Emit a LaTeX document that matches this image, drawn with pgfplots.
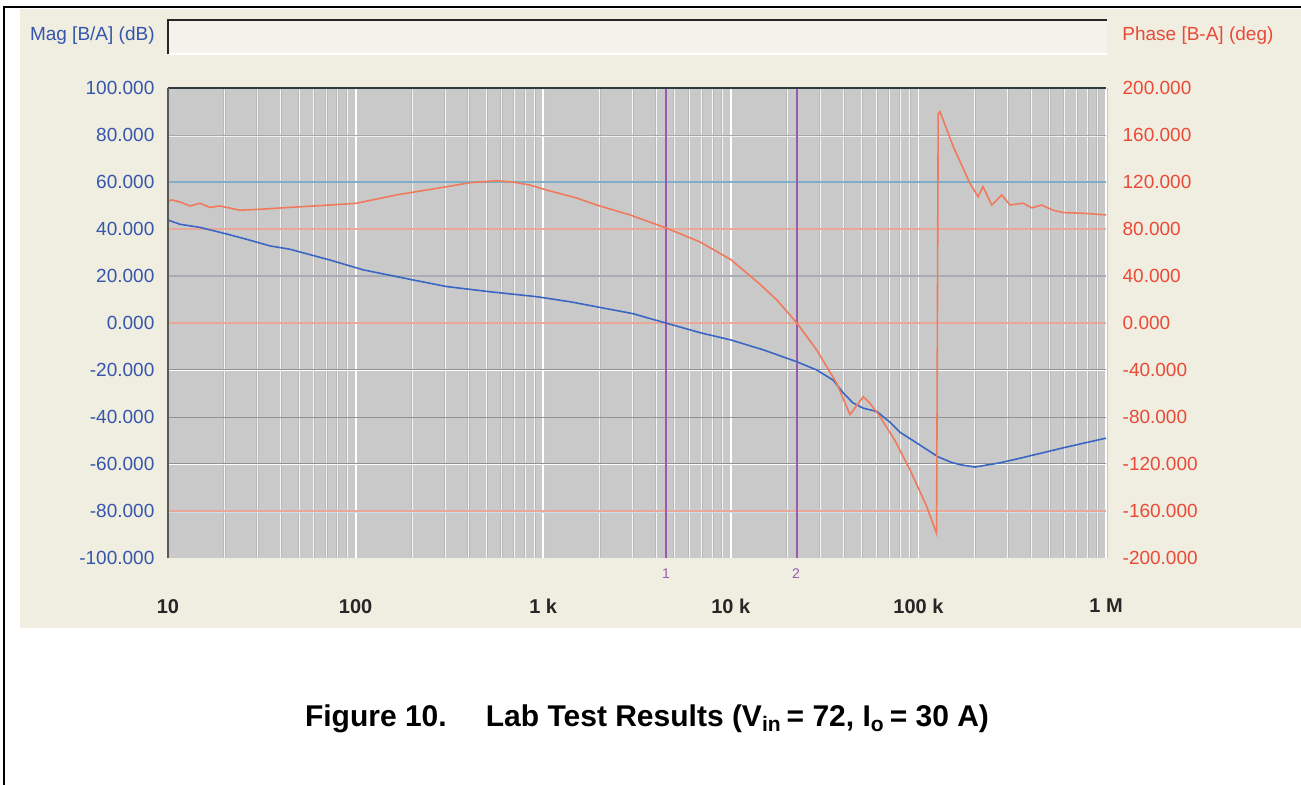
\documentclass[border=0pt]{standalone}
\usepackage{pgfplots}
\pgfplotsset{compat=1.18}
\usepackage{fontspec}
\setmainfont{Liberation Sans}
\definecolor{beige}{HTML}{F0EDE1}
\definecolor{hdrbox}{HTML}{F4F2EA}
\definecolor{plotbg}{HTML}{C9C9C9}
\definecolor{magblue}{HTML}{3A66C4}
\definecolor{maglab}{HTML}{3556AA}
\definecolor{phred}{HTML}{F07A5C}
\definecolor{phlab}{HTML}{EA4A36}
\definecolor{mkpurple}{HTML}{9A5AB0}
\definecolor{gridblue}{HTML}{7FAFC8}
\definecolor{gridsalmon}{HTML}{E8A896}
\definecolor{griddark}{HTML}{8E9296}
\definecolor{axdark}{HTML}{2E3A40}

\pgfplotstableread{
f mag
10 43.8
11.6 42.0
14.8 40.7
20.5 37.9
26.3 35.6
35 32.8
44.6 31.4
73 26.8
110 22.6
203 18.3
306 15.5
520 13.3
923 11.2
1400 9.0
1928 6.9
3000 4.0
4500 0.0
7000 -4.3
10000 -7.2
15000 -11.5
22500 -16.5
28700 -20.0
35100 -24.3
40000 -30.0
44800 -34.0
50700 -36.2
60100 -37.7
70000 -42.0
79800 -46.5
100000 -51.5
127000 -56.9
150000 -59.3
167000 -60.3
200000 -61.3
272000 -59.5
350000 -57.5
445000 -55.5
600000 -53.0
726000 -51.5
1000000 -49.0
}\magtable

\pgfplotstableread{
f ph
10 104
10.46 104.7
11.6 103
13.1 99.6
14.8 101.9
16.7 98.4
18.9 99.6
24.2 96
30.9 96.8
44.6 98.4
73 100.4
101 101.9
165 109
306 116
406 119.4
566 121.1
700 119.8
850 117.4
1040 113.2
1500 106.5
1930 100.4
2900 92
4500 81
6850 69
10000 54
14300 33
17600 19.6
22500 0
28700 -23
36600 -51
43200 -78
47000 -70
50800 -62.7
55000 -68
62400 -79.7
75000 -100
90200 -125
110000 -155
125000 -179
127500 178
130400 179.8
153500 150
188000 119
208000 107.5
221000 116
246000 100.4
278000 109
308000 100.4
361000 102
402000 98
454000 100.4
522000 96
590000 94
754000 93.4
1000000 92
}\phtable

\begin{document}
\begin{tikzpicture}
% background panel and frame (1 unit = 1 px of the reference)
\begin{scope}[x=0.5pt,y=-0.5pt,shift={(0,392pt)}]
  \fill[white] (0,0) rectangle (1301,784);
  \fill[beige] (20,9) rectangle (1310,628);
  \draw[black, line width=1.1pt] (4,7) rectangle (1320,800);
  \fill[hdrbox] (168,20) rectangle (1107,54);
  \draw[white, line width=0.8pt] (168,54) -- (1107,54);
  \draw[black!85, line width=1pt] (168,54) -- (168,20) -- (1107,20);
  \node[anchor=east, inner sep=0, text=maglab, font=\fontsize{9.5}{11}\selectfont] at (155,36) {Mag [B/A] (dB)};
  \node[anchor=west, inner sep=0, text=phlab, font=\fontsize{9.5}{11}\selectfont] at (1122,36) {Phase [B-A] (deg)};
\end{scope}

\begin{axis}[
  at={(84pt,113pt)}, anchor=south west,
  scale only axis, width=469pt, height=235pt,
  xmode=log, xmin=10, xmax=1e6, ymin=-100, ymax=100,
  axis background/.style={fill=plotbg},
  axis line style={draw=none},
  tick style={draw=none}, major tick length=0pt, minor tick length=0pt,
  xtick={10,100,1000,10000,100000,1000000},
  xticklabels={10,100,1 k,10 k,100 k,1 M},
  minor xtick={20,30,40,50,60,70,80,90,200,300,400,500,600,700,800,900,2000,3000,4000,5000,6000,7000,8000,9000,20000,30000,40000,50000,60000,70000,80000,90000,200000,300000,400000,500000,600000,700000,800000,900000},
  xmajorgrids, xminorgrids,
  major grid style={draw=black!22, double=white, double distance=0.9pt, line width=0.3pt},
  minor grid style={draw=black!28, double=white!80!plotbg, double distance=0.5pt, line width=0.3pt},
  ytick={-100,-80,...,100},
  yticklabels={-100.000,-80.000,-60.000,-40.000,-20.000,0.000,20.000,40.000,60.000,80.000,100.000},
  yticklabel style={text=maglab, font=\fontsize{9.5}{11}\selectfont, xshift=-3.3pt},
  xticklabel style={text=black!85, font=\bfseries\fontsize{10}{12}\selectfont, yshift=-17pt},
  clip=true,
]
  % horizontal grid lines
  \draw[griddark!80!white, line width=0.5pt] (axis cs:10,80) -- (axis cs:1e6,80);
  \draw[white!70!plotbg, line width=0.5pt] (axis cs:10,79.5) -- (axis cs:1e6,79.5);
  \draw[gridblue, line width=0.6pt] (axis cs:10,60) -- (axis cs:1e6,60);
  \draw[gridsalmon, line width=0.6pt] (axis cs:10,40) -- (axis cs:1e6,40);
  \draw[gridblue!60!gridsalmon, line width=0.6pt] (axis cs:10,20) -- (axis cs:1e6,20);
  \draw[gridsalmon, line width=0.6pt] (axis cs:10,0) -- (axis cs:1e6,0);
  \draw[griddark, line width=0.5pt] (axis cs:10,-19.6) -- (axis cs:1e6,-19.6);
  \draw[white, line width=0.5pt] (axis cs:10,-20.2) -- (axis cs:1e6,-20.2);
  \draw[griddark, line width=0.5pt] (axis cs:10,-40) -- (axis cs:1e6,-40);
  \draw[griddark, line width=0.5pt] (axis cs:10,-59.6) -- (axis cs:1e6,-59.6);
  \draw[white, line width=0.5pt] (axis cs:10,-60.2) -- (axis cs:1e6,-60.2);
  \draw[gridsalmon, line width=0.6pt] (axis cs:10,-80) -- (axis cs:1e6,-80);
  \draw[white!60!gridblue, line width=0.4pt] (axis cs:10,-80.6) -- (axis cs:1e6,-80.6);
  % markers
  \draw[mkpurple, line width=0.8pt] (axis cs:4514,-100) -- (axis cs:4514,100);
  \draw[mkpurple, line width=0.8pt] (axis cs:22500,-100) -- (axis cs:22500,100);
  \addplot[magblue, line width=0.8pt, no markers] table[x=f, y=mag] {\magtable};
\end{axis}

\begin{axis}[
  at={(84pt,113pt)}, anchor=south west,
  scale only axis, width=469pt, height=235pt,
  xmode=log, xmin=10, xmax=1e6, ymin=-200, ymax=200,
  axis x line=none, axis y line*=right,
  axis line style={draw=none},
  tick style={draw=none}, major tick length=0pt,
  ytick={-200,-160,...,200},
  yticklabels={-200.000,-160.000,-120.000,-80.000,-40.000,0.000,40.000,80.000,120.000,160.000,200.000},
  yticklabel style={text=phlab, font=\fontsize{9.5}{11}\selectfont, xshift=4.8pt},
]
  \addplot[phred, line width=0.8pt, no markers] table[x=f, y=ph] {\phtable};
\end{axis}

\begin{scope}[x=0.5pt,y=-0.5pt,shift={(0,392pt)}]
  \draw[axdark, line width=1pt] (168,88) -- (1106,88);
  \draw[black!65, line width=0.7pt] (168,88) -- (168,558);
  \node[text=mkpurple, font=\fontsize{7}{8}\selectfont, inner sep=0] at (666,574) {1};
  \node[text=mkpurple, font=\fontsize{7}{8}\selectfont, inner sep=0] at (796,574) {2};
  \node[font=\bfseries\fontsize{15}{17}\selectfont, inner sep=0] at (647,719)
    {Figure 10.\hspace{14pt} Lab Test Results (V\textsubscript{in}\,= 72, I\textsubscript{o}\,= 30 A)};
  \pgfresetboundingbox
  \path[use as bounding box] (0,0) rectangle (1301,784);
\end{scope}
\end{tikzpicture}
\end{document}
